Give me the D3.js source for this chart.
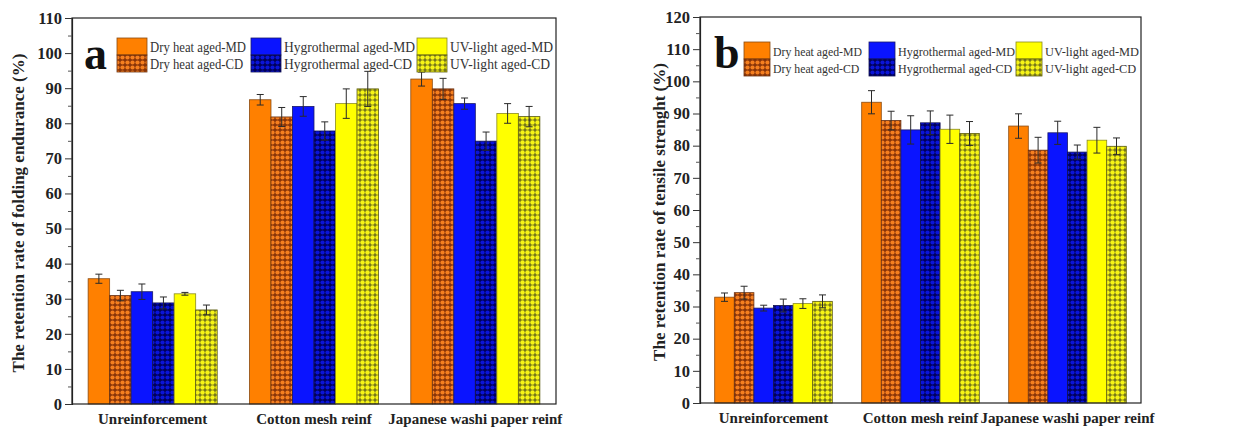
<!DOCTYPE html>
<html><head><meta charset="utf-8">
<script src="https://cdn.jsdelivr.net/npm/d3@7"></script>
<style>body{margin:0;background:#fff}svg{display:block}</style>
</head><body>
<svg id="chart" width="1257" height="432"></svg>
<script>
const groups = ["Unreinforcement", "Cotton mesh reinf", "Japanese washi paper reinf"];
const seriesNames = ["Dry heat aged-MD", "Dry heat aged-CD", "Hygrothermal aged-MD", "Hygrothermal aged-CD", "UV-light aged-MD", "UV-light aged-CD"];

// Panel a: folding endurance retention (%)
const foldDryMD = [35.7, 86.7, 92.6];
const foldDryCD = [30.9, 81.8, 89.8];
const foldHygMD = [32.0, 84.8, 85.6];
const foldHygCD = [28.8, 77.8, 74.9];
const foldUvMD  = [31.4, 85.6, 82.8];
const foldUvCD  = [26.8, 89.8, 81.9];
const foldErrDryMD = [1.3, 1.5, 2.0];
const foldErrDryCD = [1.5, 2.7, 3.0];
const foldErrHygMD = [2.2, 2.8, 1.6];
const foldErrHygCD = [1.7, 2.6, 2.6];
const foldErrUvMD  = [0.4, 4.2, 2.8];
const foldErrUvCD  = [1.4, 5.0, 2.9];

// Panel b: tensile strength retention (%)
const tensDryMD = [32.9, 93.5, 86.1];
const tensDryCD = [34.3, 87.8, 78.6];
const tensHygMD = [29.5, 84.9, 84.0];
const tensHygCD = [30.3, 87.1, 78.0];
const tensUvMD  = [30.9, 85.1, 81.7];
const tensUvCD  = [31.6, 83.8, 79.8];
const tensErrDryMD = [1.3, 3.6, 3.8];
const tensErrDryCD = [2.0, 2.9, 4.0];
const tensErrHygMD = [0.9, 4.4, 3.6];
const tensErrHygCD = [2.0, 3.7, 2.2];
const tensErrUvMD  = [1.5, 4.4, 4.0];
const tensErrUvCD  = [2.0, 3.7, 2.6];

const foldTicks = [0,10,20,30,40,50,60,70,80,90,100,110];
const tensTicks = [0,10,20,30,40,50,60,70,80,90,100,110,120];

const svg = d3.select("#chart");
const defs = svg.append("defs");
const SERIF = "'Liberation Serif','DejaVu Serif',serif";

function makePattern(id, bg, dot, r) {
  const p = defs.append("pattern").attr("id", id).attr("patternUnits", "userSpaceOnUse")
    .attr("width", 5).attr("height", 5);
  p.append("rect").attr("width", 5).attr("height", 5).attr("fill", bg);
  p.append("circle").attr("cx", 2.5).attr("cy", 2.5).attr("r", r).attr("fill", dot);
}
makePattern("pOrange", "#8a3508", "#f57f1f", 2.1);
makePattern("pBlue", "#00005a", "#0a14d8", 2.1);
makePattern("pYellow", "#70701a", "#f6f416", 2.25);

const fills = ["#ff8000", "url(#pOrange)", "#0a14ff", "url(#pBlue)", "#ffff00", "url(#pYellow)"];
const strokes = ["#8a4a10", "#6a3010", "#1a1a6a", "#101050", "#8a8a20", "#5a5a10"];

function drawPanel(cfg) {
  const g = svg.append("g");
  const x0 = d3.scaleBand().domain(groups).range([cfg.left, cfg.right]).paddingInner(0.2).paddingOuter(0.1);
  const x1 = d3.scaleBand().domain(seriesNames).range([0, x0.bandwidth()]);
  const y = d3.scaleLinear().domain([0, cfg.ymax]).range([cfg.bottom, cfg.top]);

  cfg.values.forEach((vals, si) => {
    vals.forEach((v, gi) => {
      g.append("rect")
        .attr("x", x0(groups[gi]) + x1(seriesNames[si]))
        .attr("y", y(v))
        .attr("width", x1.bandwidth())
        .attr("height", y(0) - y(v))
        .attr("fill", fills[si]).attr("stroke", strokes[si]).attr("stroke-width", 0.8);
    });
  });
  cfg.values.forEach((vals, si) => {
    vals.forEach((v, gi) => {
      const e = cfg.errs[si][gi];
      const cx = x0(groups[gi]) + x1(seriesNames[si]) + x1.bandwidth() / 2;
      const col = "#2a2a2a";
      g.append("line").attr("x1", cx).attr("x2", cx).attr("y1", y(v - e)).attr("y2", y(v + e)).attr("stroke", col).attr("stroke-width", 1);
      [v - e, v + e].forEach(t => g.append("line").attr("x1", cx - 3.5).attr("x2", cx + 3.5).attr("y1", y(t)).attr("y2", y(t)).attr("stroke", col).attr("stroke-width", 1));
    });
  });

  g.append("rect").attr("x", cfg.left).attr("y", cfg.top).attr("width", cfg.right - cfg.left).attr("height", cfg.bottom - cfg.top)
    .attr("fill", "none").attr("stroke", "#222").attr("stroke-width", 1.2);

  const minor = d3.range(5, cfg.ymax, 10);
  const ax = g.append("g").attr("transform", `translate(${cfg.left},0)`)
    .call(d3.axisLeft(y).tickValues(cfg.ticks).tickSize(7).tickPadding(3).tickFormat(d3.format("d")));
  ax.select(".domain").attr("stroke", "#222").attr("stroke-width", 1.2);
  ax.selectAll(".tick line").attr("stroke", "#333");
  ax.selectAll("text").attr("font-family", SERIF).attr("font-weight", "bold").attr("font-size", 16.5).attr("fill", "#222");
  g.append("g").attr("transform", `translate(${cfg.left},0)`)
    .call(d3.axisLeft(y).tickValues(minor).tickSize(4).tickFormat(""))
    .call(s => s.select(".domain").remove())
    .selectAll(".tick line").attr("stroke", "#555");

  groups.forEach(gr => {
    g.append("text").attr("x", x0(gr) + x0.bandwidth() / 2).attr("y", cfg.bottom + 20)
      .attr("text-anchor", "middle").attr("font-family", SERIF).attr("font-weight", "bold")
      .attr("font-size", 15).attr("fill", "#222").text(gr);
  });

  g.append("text").attr("transform", `translate(${cfg.titleX},${(cfg.top + cfg.bottom) / 2 + 2}) rotate(-90)`)
    .attr("text-anchor", "middle").attr("font-family", SERIF).attr("font-weight", "bold")
    .attr("font-size", 17).attr("fill", "#222").text(cfg.title);

  g.append("text").attr("x", cfg.letterX).attr("y", cfg.letterY).attr("font-family", SERIF).attr("font-weight", "bold")
    .attr("font-size", 46).attr("fill", "#111").text(cfg.letter);

  cfg.legendCols.forEach((colX, ci) => {
    const texts = [];
    [0, 1].forEach(ri => {
      const si = ci * 2 + ri;
      const yy = cfg.legendTop + ri * cfg.legendRowH;
      g.append("rect").attr("x", colX).attr("y", yy).attr("width", cfg.swW).attr("height", cfg.legendRowH)
        .attr("fill", fills[si]).attr("stroke", strokes[si]).attr("stroke-width", 0.8);
      const t = g.append("text").attr("x", colX + cfg.swW + 3).attr("y", yy + cfg.legendRowH / 2 + 5)
        .attr("font-family", SERIF).attr("font-size", cfg.legendFont).attr("fill", "#333").text(seriesNames[si]);
      texts.push(t);
    });
    const natMD = texts[0].node().getComputedTextLength();
    const f = cfg.legendTextW[ci] / natMD;
    texts.forEach(t => {
      const nat = t.node().getComputedTextLength();
      t.attr("textLength", nat * f).attr("lengthAdjust", "spacingAndGlyphs");
    });
  });
}

drawPanel({
  left: 72, right: 556, top: 18, bottom: 404, ymax: 110, ticks: foldTicks,
  values: [foldDryMD, foldDryCD, foldHygMD, foldHygCD, foldUvMD, foldUvCD],
  errs: [foldErrDryMD, foldErrDryCD, foldErrHygMD, foldErrHygCD, foldErrUvMD, foldErrUvCD],
  title: "The retention rate of folding endurance (%)", titleX: 24,
  letter: "a", letterX: 84, letterY: 69,
  legendCols: [117, 251, 417], legendTop: 38, legendRowH: 17, swW: 30, legendFont: 14,
  legendTextW: [96, 131, 103]
});
drawPanel({
  left: 700, right: 1141, top: 17, bottom: 403, ymax: 120, ticks: tensTicks,
  values: [tensDryMD, tensDryCD, tensHygMD, tensHygCD, tensUvMD, tensUvCD],
  errs: [tensErrDryMD, tensErrDryCD, tensErrHygMD, tensErrHygCD, tensErrUvMD, tensErrUvCD],
  title: "The retention rate of tensile strenght (%)", titleX: 665,
  letter: "b", letterX: 714, letterY: 68,
  legendCols: [744, 869, 1016], legendTop: 42, legendRowH: 17, swW: 26, legendFont: 13.5,
  legendTextW: [89, 117, 94]
});
</script>
</body></html>
